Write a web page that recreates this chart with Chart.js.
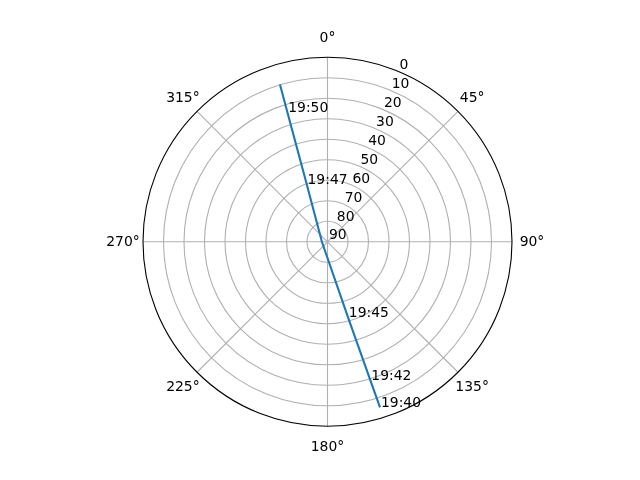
<!DOCTYPE html>
<html>
<head>
<meta charset="utf-8">
<title>Pass sky plot</title>
<script src="https://cdn.jsdelivr.net/npm/chart.js@4.4.0/dist/chart.umd.min.js"></script>
<style>
  html, body { margin: 0; padding: 0; background: #fff; }
  #sky { display: block; }
</style>
</head>
<body>
<canvas id="sky" width="640" height="480"></canvas>
<script>
'use strict';

// Satellite track (azimuth clockwise from north, elevation in degrees)
const passTimes = ['19:40', '19:42', '19:45', '19:46', '19:47', '19:50', '19:51'];
const azimuthDeg = [162.4, 162.8, 164.8, 268.0, 340.2, 342.8, 343.2];
const elevationDeg = [5.3, 19.4, 52.1, 87.3, 59.8, 23.6, 9.8];
const labeledTimes = ['19:40', '19:42', '19:45', '19:47', '19:50'];

// Axis ticks
const thetaTicks = [0, 45, 90, 135, 180, 225, 270, 315];
const thetaLabels = ['0°', '45°', '90°', '135°', '180°', '225°', '270°', '315°'];
const elevationTicks = [0, 10, 20, 30, 40, 50, 60, 70, 80, 90];
const elevationLabels = ['0', '10', '20', '30', '40', '50', '60', '70', '80', '90'];

const FONT = '13.9px "DejaVu Sans", sans-serif';
const RLABEL_ANGLE = 22.5;

function toXY(az, el) {
  const r = 90 - el;
  const a = az * Math.PI / 180;
  return { x: r * Math.sin(a), y: r * Math.cos(a) };
}

const trackPoints = azimuthDeg.map((az, i) => ({ ...toXY(az, elevationDeg[i]), t: passTimes[i] }));

function px(chart, az, el) {
  const p = toXY(az, el);
  return { x: chart.scales.x.getPixelForValue(p.x), y: chart.scales.y.getPixelForValue(p.y) };
}

const polarGrid = {
  id: 'polarGrid',
  beforeDatasetsDraw(chart) {
    const ctx = chart.ctx;
    const c = px(chart, 0, 90);
    const R = Math.abs(chart.scales.y.getPixelForValue(90) - c.y);
    ctx.save();

    // rings
    ctx.strokeStyle = '#b0b0b0';
    ctx.lineWidth = 1.1;
    elevationTicks.forEach(el => {
      const rr = Math.abs(px(chart, 0, el).y - c.y);
      if (rr <= 0.5 || el === 0) return;
      ctx.beginPath();
      ctx.arc(c.x, c.y, rr, 0, Math.PI * 2);
      ctx.stroke();
    });

    // spokes
    thetaTicks.forEach(az => {
      const e = px(chart, az, 0);
      ctx.beginPath();
      ctx.moveTo(c.x, c.y);
      ctx.lineTo(e.x, e.y);
      ctx.stroke();
    });

    // outer spine
    ctx.strokeStyle = '#000';
    ctx.lineWidth = 1.1;
    ctx.beginPath();
    ctx.arc(c.x, c.y, R, 0, Math.PI * 2);
    ctx.stroke();

    // theta labels
    ctx.fillStyle = '#000';
    ctx.font = FONT;
    ctx.textAlign = 'center';
    ctx.textBaseline = 'middle';
    thetaTicks.forEach((az, i) => {
      const a = az * Math.PI / 180;
      const rr = R + 20;
      ctx.fillText(thetaLabels[i], c.x + rr * Math.sin(a), c.y - rr * Math.cos(a) + 1);
    });

    // radial labels
    ctx.textAlign = 'left';
    ctx.textBaseline = 'bottom';
    elevationTicks.forEach((el, i) => {
      const p = px(chart, RLABEL_ANGLE, el);
      ctx.fillText(elevationLabels[i], p.x + 1.5, p.y + 1);
    });
    ctx.restore();
  },
  afterDatasetsDraw(chart) {
    const ctx = chart.ctx;
    const meta = chart.getDatasetMeta(0);
    ctx.save();
    ctx.fillStyle = '#000';
    ctx.font = FONT;
    ctx.textAlign = 'left';
    ctx.textBaseline = 'alphabetic';
    meta.data.forEach((pt, i) => {
      if (labeledTimes.includes(passTimes[i])) {
        ctx.fillText(passTimes[i], pt.x + 1, pt.y);
      }
    });
    ctx.restore();
  }
};

new Chart(document.getElementById('sky'), {
  type: 'scatter',
  data: {
    datasets: [{
      label: 'Track',
      data: trackPoints,
      showLine: true,
      borderColor: '#1f77b4',
      borderWidth: 2.1,
      pointRadius: 0,
      tension: 0,
      clip: false,
    }],
  },
  options: {
    responsive: false,
    animation: false,
    devicePixelRatio: 1,
    layout: { padding: { left: 143, right: 128, top: 57.3, bottom: 53.7 } },
    plugins: {
      legend: { display: false },
      tooltip: { enabled: false },
    },
    scales: {
      x: { type: 'linear', min: -90, max: 90, display: false },
      y: { type: 'linear', min: -90, max: 90, display: false },
    },
  },
  plugins: [polarGrid],
});
</script>
</body>
</html>
